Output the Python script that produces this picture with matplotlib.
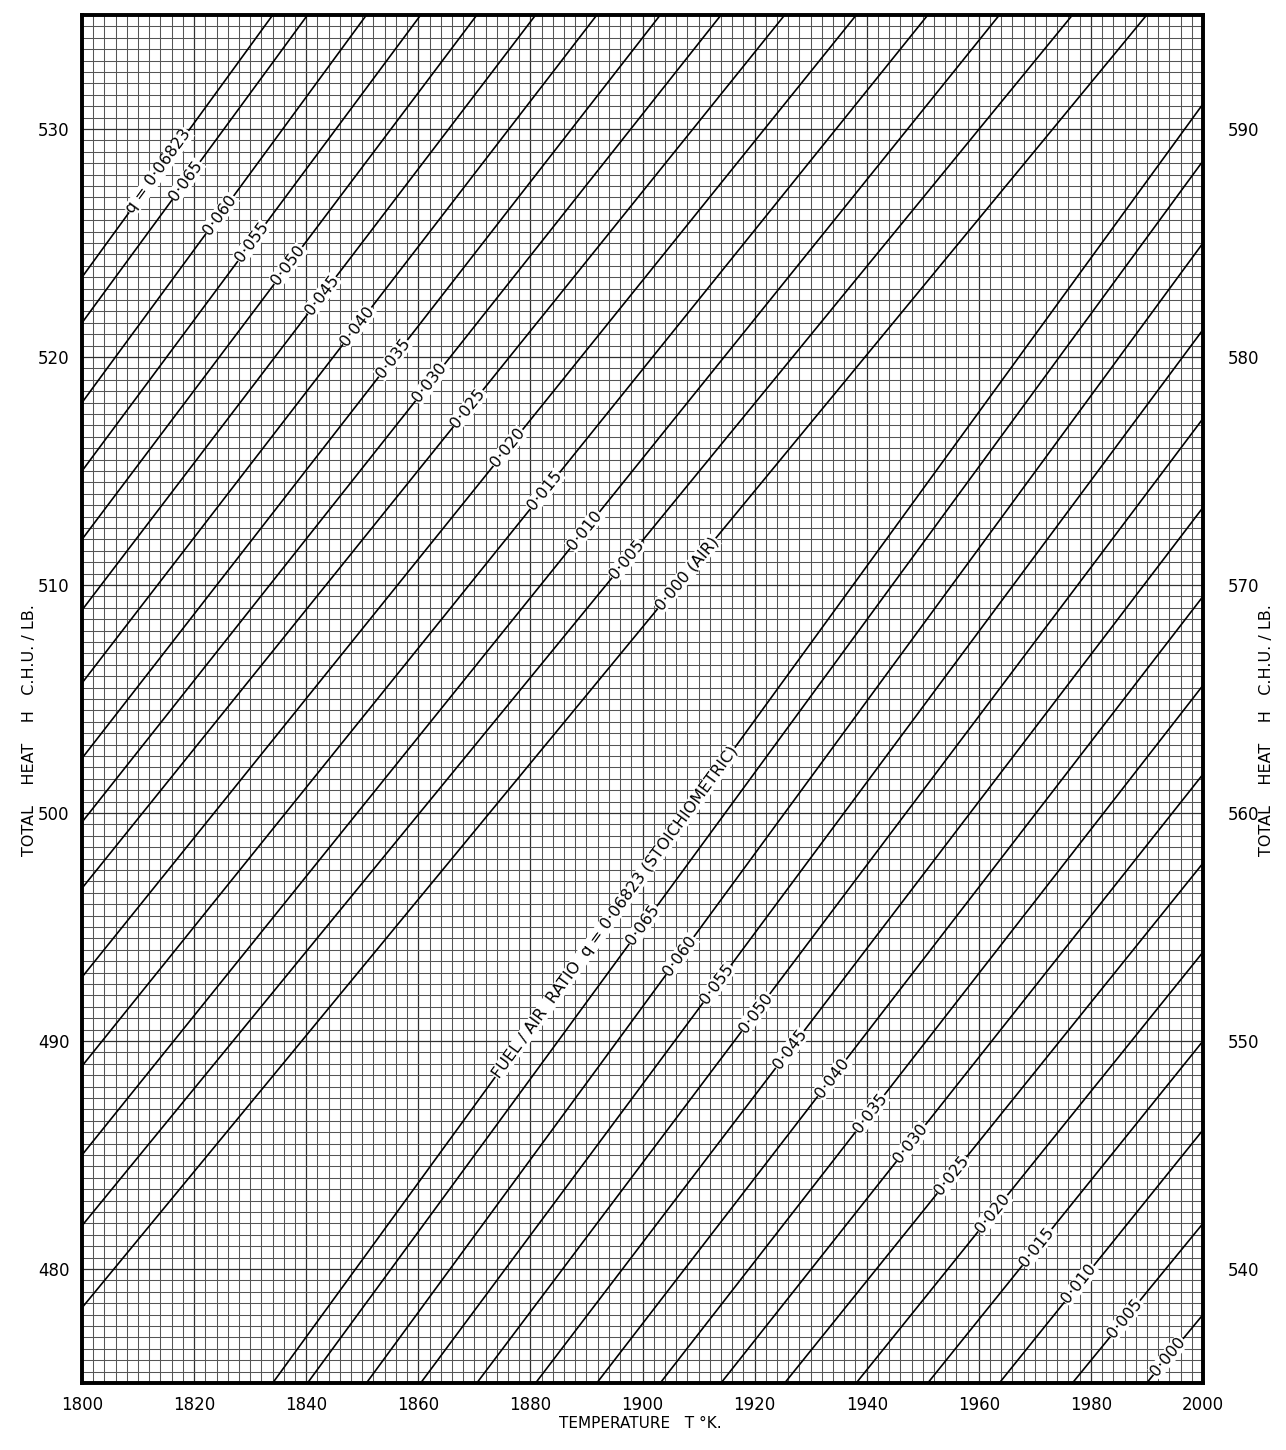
import numpy as np
import matplotlib
matplotlib.use("Agg")
import matplotlib.pyplot as plt
from matplotlib.ticker import MultipleLocator

# ---------------- data ----------------
fuel_air = [0.06823, 0.065, 0.060, 0.055, 0.050, 0.045, 0.040, 0.035,
            0.030, 0.025, 0.020, 0.015, 0.010, 0.005, 0.000]
# total heat H (C.H.U./lb) of each fuel/air line at T = 1800 K and T = 2000 K
h_at_1800 = [523.5, 521.5, 518.0, 515.0, 512.0, 508.9, 505.7, 502.4,
             499.6, 496.7, 492.8, 488.9, 485.0, 481.9, 478.3]
h_at_2000 = [591.1, 588.6, 585.0, 581.2, 577.3, 573.4, 569.5, 565.6,
             561.7, 557.8, 553.9, 550.0, 546.1, 542.0, 538.0]

upper_labels = ["q = 0·06823", "0·065", "0·060", "0·055", "0·050", "0·045",
                "0·040", "0·035", "0·030", "0·025", "0·020", "0·015",
                "0·010", "0·005", "0·000 (AIR)"]
lower_labels = ["FUEL / AIR  RATIO  q = 0·06823 (STOICHIOMETRIC)", "0·065",
                "0·060", "0·055", "0·050", "0·045", "0·040", "0·035", "0·030",
                "0·025", "0·020", "0·015", "0·010", "0·005", "0·000"]
# temperatures where the labels sit on their lines
upper_label_T = [1813.7, 1818.6, 1824.6, 1830.3, 1836.8, 1842.8, 1849.1,
                 1855.5, 1862.1, 1868.9, 1876.0, 1882.6, 1889.7, 1897.2, 1907.9]
lower_label_T = [1895.1, 1900.1, 1906.7, 1913.3, 1920.2, 1926.3, 1933.8,
                 1940.6, 1947.9, 1955.2, 1962.5, 1970.4, 1977.9, 1986.1, 1993.8]

x_ticks = [1800, 1820, 1840, 1860, 1880, 1900, 1920, 1940, 1960, 1980, 2000]
left_ticks = [480, 490, 500, 510, 520, 530]
right_ticks = [540, 550, 560, 570, 580, 590]
x_range = (1800, 2000)
left_range = (475, 535)
right_range = (535, 595)

# ---------------- figure ----------------
plt.rcParams['font.family'] = ['DejaVu Sans']
fig = plt.figure(figsize=(12.86, 14.5), dpi=100)
ax = fig.add_axes([82/1286, 67/1450, (1203-82)/1286, (1383-15)/1450])
ax.set_xlim(*x_range)
ax.set_ylim(*left_range)

ax2 = ax.twinx()
ax2.set_ylim(*right_range)

# graph-paper grid
ax.xaxis.set_minor_locator(MultipleLocator(2))
ax.yaxis.set_minor_locator(MultipleLocator(0.5))
ax.set_xticks(x_ticks)
ax.set_yticks(left_ticks)
ax2.set_yticks(right_ticks)
ax.grid(which='minor', color='#555555', linewidth=0.75)
ax.grid(which='major', color='#303030', linewidth=0.9)
ax.set_axisbelow(True)

ax.tick_params(axis='both', which='both', length=0)
ax.tick_params(axis='x', pad=9, labelsize=12)
ax.tick_params(axis='y', pad=9, labelsize=12)
ax2.tick_params(axis='y', which='both', length=0, pad=18, labelsize=12)

for sp in list(ax.spines.values()) + list(ax2.spines.values()):
    sp.set_linewidth(2.6)
    sp.set_color('black')

T_ends = [x_range[0], x_range[1]]

def add_lines(axis, labels, label_T):
    for i in range(len(fuel_air)):
        h0, h1 = h_at_1800[i], h_at_2000[i]
        axis.plot(T_ends, [h0, h1], color='black', linewidth=1.2,
                  solid_capstyle='butt', zorder=3)
        t = label_T[i]
        h = h0 + (h1 - h0) * (t - T_ends[0]) / (T_ends[1] - T_ends[0])
        ang = np.degrees(np.arctan2(h1 - h0, T_ends[1] - T_ends[0]))
        axis.text(t, h, labels[i], rotation=ang, transform_rotates_text=True,
                  rotation_mode='anchor', ha='center', va='center',
                  fontsize=11.5, zorder=4,
                  bbox=dict(facecolor='white', edgecolor='none', pad=0.4))

add_lines(ax, upper_labels, upper_label_T)
add_lines(ax2, lower_labels, lower_label_T)

fig.text(30/1286, 1 - 730/1450, "TOTAL    HEAT    H   C.H.U. / LB.", rotation=90,
         ha='center', va='center', fontsize=11.5)
fig.text(1266/1286, 1 - 730/1450, "TOTAL    HEAT    H   C.H.U. / LB.", rotation=90,
         ha='center', va='center', fontsize=11.5)
fig.text(640/1286, 1 - 1424/1450, "TEMPERATURE   T °K.", ha='center',
         va='center', fontsize=11)

fig.savefig("out.png", dpi=100, facecolor='white')
